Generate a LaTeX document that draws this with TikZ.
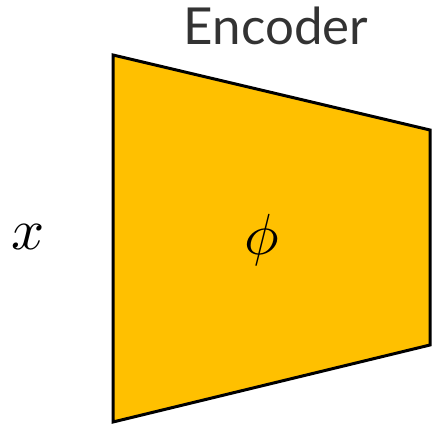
\documentclass[tikz,border=0pt]{standalone}
\usepackage{fontspec}
\newfontfamily\titlefont{Lato}
\definecolor{EncAmber}{HTML}{FFC000}
\definecolor{EncInk}{HTML}{333333}
\begin{document}
\begin{tikzpicture}[x=1pt,y=1pt,
  blockline/.style={draw=black,line width=3pt,line join=miter,fill=EncAmber},
  bigmath/.style={scale=5.8,inner sep=0pt}]
  \useasboundingbox (0,0) rectangle (433,428);
  % Corners of the encoder block
  \coordinate (tl) at (113,373);
  \coordinate (bl) at (113,6);
  \coordinate (br) at (430,83);
  \coordinate (tr) at (430,298);
  \draw[blockline] (tl) -- (tr) -- (br) -- (bl) -- cycle;
  % Labels
  \node[font=\titlefont\fontsize{51}{54}\selectfont,color=EncInk]
    (title) at (276,402) {Encoder};
  \node[bigmath] (input) at (28,191) {$x$};
  \node[bigmath] (phi) at (262,188) {$\phi$};
\end{tikzpicture}
\end{document}
